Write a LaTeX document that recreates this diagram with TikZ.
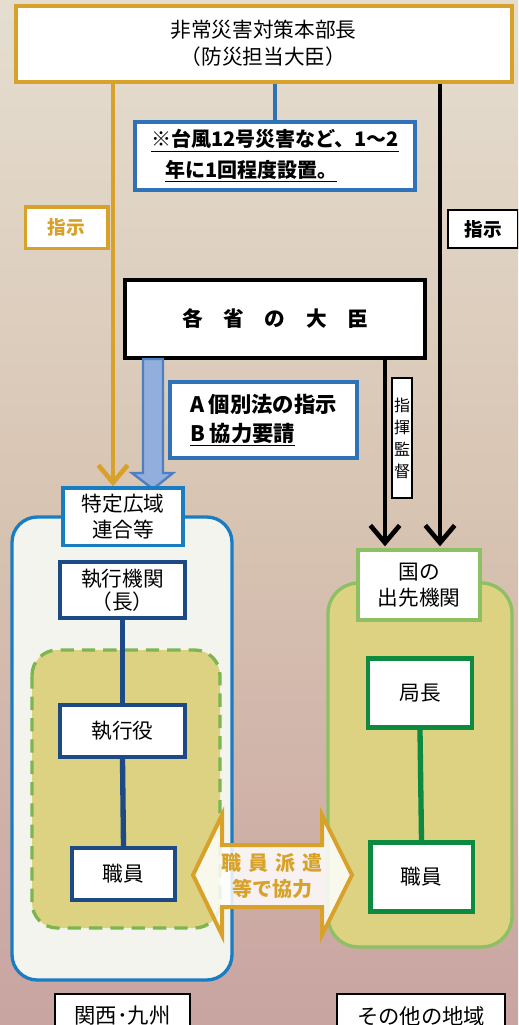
\documentclass[tikz,border=0pt]{standalone}
\usepackage{fontspec}
\setmainfont{Noto Sans CJK JP}
\usetikzlibrary{arrows.meta,calc}
\definecolor{gold}{RGB}{216,162,42}
\definecolor{noteblue}{RGB}{47,114,184}
\definecolor{contblue}{RGB}{26,124,193}
\definecolor{navy}{RGB}{29,74,133}
\definecolor{lgreen}{RGB}{140,192,99}
\definecolor{dgreen}{RGB}{12,138,64}
\definecolor{olive}{RGB}{220,210,130}
\definecolor{dashgreen}{RGB}{125,181,80}
\definecolor{fatfill}{RGB}{146,174,220}
\definecolor{fatline}{RGB}{78,127,194}
\definecolor{bgtop}{RGB}{229,222,208}
\definecolor{bgmid}{RGB}{216,196,178}
\definecolor{bgbot}{RGB}{201,164,161}
\definecolor{contfill}{RGB}{244,244,239}
\newcommand{\fs}[2]{\fontsize{#1}{#2}\selectfont}
\begin{document}
\begin{tikzpicture}[x=0.75pt,y=-0.75pt,
  box/.style={draw, fill=white, align=center, inner sep=0pt},
  goldbox/.style={box, draw=gold, line width=3pt},
  bluebox/.style={box, draw=noteblue, line width=3pt},
  navybox/.style={box, draw=navy, line width=3pt},
  gbox/.style={box, draw=dgreen, line width=3.5pt},
  thinbox/.style={box, draw=black, line width=1.5pt},
  chev/.style={-{Straight Barb[length=13pt,width=22pt]}}
]
\useasboundingbox (0,0) rectangle (518,1025);
\clip (0,0) rectangle (518,1025);
\shade[top color=bgtop, bottom color=bgbot, middle color=bgmid] (0,0) rectangle (518,1025);

% containers
\draw[contblue, line width=2.5pt, fill=contfill, rounded corners=19pt] (12,517) rectangle (232,980);
\draw[dashgreen, line width=2.5pt, fill=olive, dash pattern=on 10pt off 6pt, rounded corners=19pt] (32,650) rectangle (220,928);
\draw[lgreen, line width=2.5pt, fill=olive, rounded corners=23pt] (328,583) rectangle (512,947);

% nodes
\node[goldbox, minimum width=372pt, minimum height=57pt, font=\fs{15.5}{20}] (top) at (263.5,43.5) {非常災害対策本部長\\（防災担当大臣）};
\node[bluebox, minimum width=210pt, minimum height=51pt, font=\bfseries\fs{15}{23}, align=left] (note) at (275,156) {\underline{※台風12号災害など、1～2}\\\hspace{0.7em}\underline{年に1回程度設置。}};
\node[goldbox, line width=2.5pt, minimum width=62pt, minimum height=31pt, font=\bfseries\fs{14}{17}, text=gold] (shijiL) at (66.5,227.5) {指示};
\node[thinbox, minimum width=52pt, minimum height=28pt, font=\bfseries\fs{14}{17}] (shijiR) at (483,229) {指示};
\node[box, draw=black, line width=3pt, minimum width=225pt, minimum height=58pt, font=\bfseries\fs{15.5}{19}] (kakusho) at (275,319) {各\quad 省\quad の\quad 大\quad 臣};
\node[bluebox, minimum width=140pt, minimum height=57pt, font=\bfseries\fs{16}{22}, align=left] (ab) at (263.5,420) {A 個別法の指示\\\underline{B 協力要請}};
\node[thinbox, minimum width=15pt, minimum height=90pt, font=\fs{12}{16.5}, align=center] (shiki) at (402,438) {指\\揮\\監\\督};

\node[box, draw=contblue, line width=2.5pt, minimum width=90pt, minimum height=43pt, font=\fs{15.5}{20}] (tokutei) at (123,516.5) {特定広域\\連合等};
\node[navybox, minimum width=94pt, minimum height=42pt, font=\fs{15.5}{17.5}] (shikkou) at (122.5,590) {執行機関\\（長）};
\node[navybox, minimum width=94pt, minimum height=39pt, font=\fs{15.5}{19}] (yaku) at (122.5,731) {執行役};
\node[navybox, minimum width=77pt, minimum height=39pt, font=\fs{15.5}{19}] (shokuL) at (123.5,874) {職員};

\node[box, draw=lgreen, line width=3pt, minimum width=91pt, minimum height=52pt, font=\fs{15.5}{19.5}] (kuni) at (419,585) {国の\\出先機関};
\node[gbox, minimum width=78pt, minimum height=52pt, font=\fs{15.5}{19}] (kyoku) at (420,693) {局長};
\node[gbox, minimum width=77pt, minimum height=52pt, font=\fs{15.5}{19}] (shokuR) at (421.5,877) {職員};

\node[thinbox, minimum width=101pt, minimum height=33pt, font=\fs{16}{19}, anchor=north] (kansai) at (122.5,993) {関西･九州};
\node[thinbox, minimum width=126pt, minimum height=33pt, font=\fs{16}{19}, anchor=north] (sonota) at (421,993) {その他の地域};

% connectors
\draw[noteblue, line width=2.5pt] (top.south -| note.north) -- (note.north);
\draw[gold, line width=3.5pt, chev] (top.south -| 113,0) -- (tokutei.north -| 113,0);
\draw[black, line width=3.5pt, chev] (top.south -| 440,0) -- ($(kuni.north -| 440,0)+(0,-2)$);
\draw[black, line width=3.5pt, chev] (kakusho.south -| 385,0) -- ($(kuni.north -| 385,0)+(0,-2)$);
\draw[navy, line width=4pt] (shikkou.south) -- (yaku.north);
\draw[navy, line width=4pt] (yaku.south) -- (shokuL.north);
\draw[dgreen, line width=4pt] (kyoku.south) -- (shokuR.north);

% fat blue arrow
\draw[fatline, fill=fatfill, line width=1.8pt, line join=miter]
  (143,359) -- (163,359) -- (163,473) -- (173,473) -- (153,489) -- (132,473) -- (143,473) -- cycle;

% redraw nodes over lines
\node[box, draw=contblue, line width=2.5pt, minimum width=90pt, minimum height=43pt, font=\fs{15.5}{20}] at (tokutei) {特定広域\\連合等};
\node[box, draw=lgreen, line width=3pt, minimum width=91pt, minimum height=52pt, font=\fs{15.5}{19.5}] at (kuni) {国の\\出先機関};

% double arrow
\draw[gold, line width=3pt, fill=white, fill opacity=0.85, line join=miter]
  (193,875) -- (222,815) -- (222,845) -- (322,845) -- (322,815) -- (352,875) -- (322,935) -- (322,907) -- (222,907) -- (222,935) -- cycle;
\node[text=gold, font=\bfseries\fs{15}{20}, align=center] (haken) at (272,876) {職\hspace{0.35em}員\hspace{0.35em}派\hspace{0.35em}遣\\等で協力};
\end{tikzpicture}
\end{document}
